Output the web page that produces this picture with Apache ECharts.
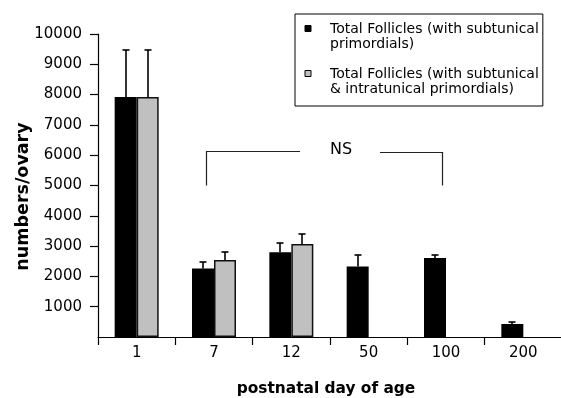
<!DOCTYPE html>
<html><head><meta charset="utf-8">
<script src="https://cdn.jsdelivr.net/npm/echarts@6/dist/echarts.min.js"></script>
<style>html,body{margin:0;padding:0;background:#fff}#c{width:561px;height:398px}</style>
</head><body><div id="c"></div>
<script>
// ---- data ----
const categories = ['1', '7', '12', '50', '100', '200'];
const seriesNames = [
  'Total Follicles (with subtunical\nprimordials)',
  'Total Follicles (with subtunical\n& intratunical primordials)'
];
const subtunical = [7920, 2260, 2800, 2330, 2610, 430];
const subtunicalSD = [1560, 220, 300, 360, 110, 80];
const combined = [7920, 2540, 3070, null, null, null];
const combinedSD = [1560, 250, 330, null, null, null];
const yMin = 0, yMax = 10000, yStep = 1000;
const nsLabel = 'NS';
const nsFrom = '7', nsTo = '100';
const nsTop = 6130, nsBottom = 5000;

// ---- chart ----
const FONT = 'DejaVu Sans';
const BAR_W = 22;
const chart = echarts.init(document.getElementById('c'), null, {renderer: 'canvas'});

function errorSeries(means, sds, offset) {
  const data = [];
  means.forEach((m, i) => { if (m != null) data.push([i, m, m + sds[i]]); });
  return {
    type: 'custom', silent: true, z: 5,
    encode: {x: 0, y: 1},
    data: data,
    renderItem(params, api) {
      const base = api.coord([api.value(0), api.value(1)]);
      const top = api.coord([api.value(0), api.value(2)]);
      const x = Math.round(base[0] + offset);
      const yt = Math.round(top[1]);
      return {type: 'group', children: [
        {type: 'line', shape: {x1: x, y1: base[1], x2: x, y2: yt}, style: {stroke: '#000', lineWidth: 1.6}},
        {type: 'line', shape: {x1: x - 3.5, y1: yt, x2: x + 3.5, y2: yt}, style: {stroke: '#000', lineWidth: 1.6}}
      ]};
    }
  };
}

const bracketSeries = {
  type: 'custom', silent: true, z: 5,
  encode: {x: 0, y: 2},
  data: [[categories.indexOf(nsFrom), categories.indexOf(nsTo), nsTop, nsBottom]],
  renderItem(params, api) {
    const bw = api.size([1, 0])[0];
    const a = api.coord([api.value(0), api.value(2)]);
    const b = api.coord([api.value(1), api.value(2)]);
    const yb = api.coord([api.value(0), api.value(3)])[1];
    const y = Math.round(a[1]) + 0.5;
    const xl = Math.round(a[0] - 0.107 * bw) + 0.5;
    const xr = Math.round(b[0] - 0.056 * bw) + 0.5;
    const gl = a[0] + 1.112 * bw, gr = a[0] + 2.147 * bw, tx = a[0] + 1.642 * bw;
    const st = {stroke: '#222', lineWidth: 1.2, fill: null};
    return {type: 'group', children: [
      {type: 'polyline', shape: {points: [[xl, yb], [xl, y], [gl, y]]}, style: st},
      {type: 'polyline', shape: {points: [[gr, y + 1], [xr, y + 1], [xr, yb]]}, style: st},
      {type: 'text', x: tx, y: y - 2, style: {text: nsLabel, fontFamily: FONT, fontSize: 16, fill: '#000', align: 'center', verticalAlign: 'middle'}}
    ]};
  }
};

const legendIcon = 'path://M0,0h6v6h-6zM20,22L20,22';

chart.setOption({
  animation: false,
  backgroundColor: '#fff',
  grid: {left: 98, right: -1, top: 34, bottom: 61, containLabel: false, outerBoundsMode: 'none'},
  legend: {
    orient: 'vertical', left: 295, top: 14,
    padding: [7.5, 4, 9.5, 9.5],
    itemGap: 15, itemWidth: 20, itemHeight: 22,
    selectedMode: false,
    borderColor: '#000', borderWidth: 1, backgroundColor: '#fff',
    textStyle: {fontFamily: FONT, fontSize: 14, lineHeight: 15, color: '#000'},
    itemStyle: {borderColor: '#000', borderWidth: 1},
    data: [
      {name: seriesNames[0], icon: legendIcon},
      {name: seriesNames[1], icon: legendIcon}
    ]
  },
  xAxis: {
    type: 'category', data: categories,
    name: 'postnatal day of age', nameLocation: 'middle', nameGap: 44,
    nameTextStyle: {fontFamily: FONT, fontWeight: 'bold', fontSize: 15.4, color: '#000', padding: [0, 8, 0, 0]},
    axisLine: {lineStyle: {color: '#000', width: 1.2}},
    axisTick: {show: true, length: 8, lineStyle: {color: '#000', width: 1.2}},
    axisLabel: {fontFamily: FONT, fontSize: 15, color: '#000', margin: 9},
    splitLine: {show: false}
  },
  yAxis: {
    type: 'value', min: yMin, max: yMax, interval: yStep,
    name: 'numbers/ovary', nameLocation: 'middle', nameGap: 66, nameMoveOverlap: false,
    nameTextStyle: {fontFamily: FONT, fontWeight: 'bold', fontSize: 17.5, color: '#000', padding: [0, 22, 0, 0]},
    axisLine: {show: true, lineStyle: {color: '#000', width: 1.2}},
    axisTick: {show: true, length: 8, lineStyle: {color: '#000', width: 1.2}},
    axisLabel: {fontFamily: FONT, fontSize: 15, color: '#000', margin: 16, showMinLabel: false,
                formatter: v => String(v)},
    splitLine: {show: false}
  },
  series: [
    {name: seriesNames[0], type: 'bar', data: subtunical, barWidth: BAR_W, barGap: '0%',
     itemStyle: {color: '#000', borderColor: '#000', borderWidth: 1.5}},
    {name: seriesNames[1], type: 'bar', data: combined, barWidth: BAR_W, barGap: '0%',
     itemStyle: {color: '#c0c0c0', borderColor: '#111', borderWidth: 1.5}},
    errorSeries(subtunical, subtunicalSD, -BAR_W / 2),
    errorSeries(combined, combinedSD, BAR_W / 2),
    bracketSeries
  ]
});
</script></body></html>
